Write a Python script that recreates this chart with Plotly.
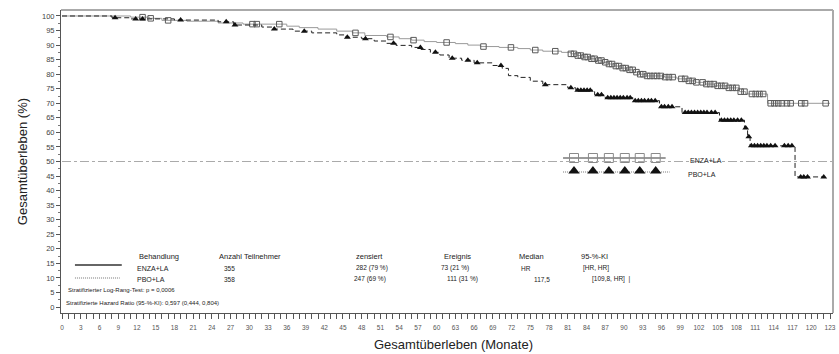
import plotly.graph_objects as go
import numpy as np

# ---------------- DATA ----------------
# Kaplan-Meier step points (month, survival %)
enza_t = [0, 11, 14, 16, 20, 25, 29, 36, 38, 41, 44, 46.5, 48.5, 52, 54, 56, 58, 60, 63, 65, 67, 70, 73,
          75, 77, 80, 81.5, 82.5, 83.5, 84.5, 85.5, 86.5, 87.5, 88.5, 89.5, 90.5, 91.5, 92.5, 93.5, 96.5,
          98.5, 100, 101.5, 103, 104.5, 106.5, 108.5, 109.5, 113, 123]
enza_s = [100, 99.6, 99.2, 98.5, 98.2, 97.6, 97.2, 96.5, 96.0, 95.5, 94.8, 94.2, 93.3, 92.8, 92.2, 91.7,
          91.2, 90.9, 90.5, 90.0, 89.5, 89.2, 88.8, 88.3, 87.9, 87.5, 87.0, 86.4, 85.9, 85.3, 84.7, 84.1,
          83.5, 82.8, 82.1, 81.5, 80.7, 80.0, 79.4, 79.0, 78.4, 77.7, 77.2, 76.6, 76.0, 75.3, 74.0, 73.2,
          70.0, 70.0]
enza_cens = [12.9, 14.2, 17, 30.5, 31.2, 34.8, 47, 52.6, 56.3, 61.6, 67.5, 71.9, 75.8, 79, 81.5, 82.0,
             82.6, 83.1, 83.7, 84.2, 84.8, 85.3, 85.9, 86.4, 87.0, 87.6, 88.1, 88.7, 89.2, 89.8, 90.3, 90.9,
             91.4, 92.0, 92.6, 93.1, 93.7, 94.2, 94.8, 95.3, 95.9, 96.6, 97.2, 97.8, 99.2, 99.8, 100.4,
             101.0, 101.6, 102.6, 103.2, 103.8, 104.4, 105.0, 105.6, 106.2, 106.8, 107.4, 108.0, 108.7,
             109.3, 110.5, 111.1, 111.7, 112.3, 113.5, 114.1, 114.7, 115.3, 116.1, 116.7, 118.4, 119.0,
             122.3]

pbo_t = [0, 8, 11, 18, 25, 27.5, 32, 34, 37, 40, 44, 45.5, 48, 50, 52, 53.5, 56, 57.5, 59, 60.5, 62, 64,
         66, 69, 70.5, 71.5, 73, 75, 77, 81, 82.3, 85.3, 87, 91.5, 95.7, 99.3, 105.3, 109.3, 109.8, 110.2,
         117.4, 122]
pbo_s = [100, 99.4, 99.0, 98.6, 98.0, 96.9, 96.2, 95.5, 94.8, 94.2, 93.5, 92.7, 92.2, 91.4, 90.6, 89.9,
         89.2, 88.5, 87.5, 86.6, 85.5, 84.8, 83.9, 83.0, 82.0, 79.5, 78.9, 77.6, 76.4, 75.3, 74.5, 72.9,
         71.9, 70.9, 68.8, 66.8, 64.2, 61.5, 58.5, 55.4, 44.7, 44.7]
pbo_cens = [8.5, 11.8, 12.9, 19, 26.3, 27.7, 34, 38.8, 45.7, 48.6, 53.1, 57.4, 59.8, 62.5, 65, 66.5, 70.3,
            77.4, 81.5, 82.6, 83.1, 83.6, 84.1, 84.6, 85.8, 86.4, 87.4, 87.9, 88.4, 88.9, 89.4, 89.9, 90.5,
            91.0, 91.8, 92.3, 92.8, 93.3, 93.9, 94.4, 95.0, 96.0, 96.5, 97.1, 97.7, 99.8, 100.3, 100.8,
            101.3, 101.8, 102.3, 102.8, 103.3, 104.0, 104.6, 105.6, 106.1, 106.6, 107.1, 107.6, 108.2,
            108.8, 109.5, 110.0, 110.4, 110.9, 111.4, 111.9, 112.4, 112.9, 113.5, 114.2, 115.7, 116.3,
            116.9, 118.3, 118.8, 119.4, 122.0]

x_tick_vals = list(range(0, 124, 3))
y_tick_vals = list(range(0, 101, 5))

table_header = ["Behandlung", "Anzahl Teilnehmer", "zensiert", "Ereignis", "Median", "95-%-KI"]
table_row_enza = ["ENZA+LA", "355", "282 (79 %)", "73 (21 %)", "HR", "[HR, HR]"]
table_row_pbo = ["PBO+LA", "358", "247 (69 %)", "111 (31 %)", "117,5", "[109,8, HR]  |"]
logrank_text = "Stratifizierter Log-Rang-Test: p = 0,0006"
hr_text = "Stratifizierte Hazard Ratio (95-%-KI): 0,597 (0,444, 0,804)"
legend_names = ["ENZA+LA", "PBO+LA"]

# ---------------- STYLE / LAYOUT ----------------
W, H = 839, 354
L, R, T, B = 61, 836, 10, 313
FONT = "Liberation Sans, Arial, sans-serif"
ENZA_COL = "#9a9a9a"
PBO_COL = "#222222"


def px(x):
    return (x - L) / (R - L)


def py(y):
    return (B - y) / (B - T)


def surv_at(times, surv, t):
    idx = np.searchsorted(np.array(times), t, side="right") - 1
    return surv[max(idx, 0)]


fig = go.Figure()

fig.add_trace(go.Scatter(x=enza_t, y=enza_s, mode="lines", line=dict(color=ENZA_COL, width=1, shape="hv"),
                         showlegend=False, hoverinfo="skip"))
fig.add_trace(go.Scatter(x=enza_cens, y=[surv_at(enza_t, enza_s, t) for t in enza_cens], mode="markers",
                         marker=dict(symbol="square-open", size=5.5, color="#5a5a5a", line=dict(width=1)),
                         showlegend=False))
fig.add_trace(go.Scatter(x=pbo_t, y=pbo_s, mode="lines", line=dict(color=PBO_COL, width=1, shape="hv", dash="5px,3px"),
                         showlegend=False, hoverinfo="skip"))
fig.add_trace(go.Scatter(x=pbo_cens, y=[surv_at(pbo_t, pbo_s, t) for t in pbo_cens], mode="markers",
                         marker=dict(symbol="triangle-up", size=6, color="#111111"),
                         showlegend=False))

# in-plot legend (pixel overlay axis)
leg_x = [576, 595, 611, 627, 642, 658]
fig.add_trace(go.Scatter(x=[565, 668], y=[158, 158], xaxis="x2", yaxis="y2", mode="lines",
                         line=dict(color=ENZA_COL, width=2), showlegend=False, hoverinfo="skip"))
fig.add_trace(go.Scatter(x=leg_x, y=[158] * 6, xaxis="x2", yaxis="y2", mode="markers",
                         marker=dict(symbol="square-open", size=9, color="#8a8a8a", line=dict(width=1)),
                         showlegend=False, hoverinfo="skip"))
fig.add_trace(go.Scatter(x=[565, 672], y=[172, 172], xaxis="x2", yaxis="y2", mode="lines",
                         line=dict(color="#777777", width=1, dash="1px,1px"), showlegend=False, hoverinfo="skip"))
fig.add_trace(go.Scatter(x=leg_x, y=[171] * 6, xaxis="x2", yaxis="y2", mode="markers",
                         marker=dict(symbol="triangle-up", size=10, color="#111111"),
                         showlegend=False, hoverinfo="skip"))

shapes = [
    # 50% reference line
    dict(type="line", xref="paper", yref="y", x0=px(62), x1=1, y0=50, y1=50,
         line=dict(color="#aaaaaa", width=1, dash="dashdot")),
    # frame top/right
    dict(type="line", xref="paper", yref="paper", x0=0, x1=1, y0=1, y1=1, line=dict(color="#aaaaaa", width=2)),
    dict(type="line", xref="paper", yref="paper", x0=1, x1=1, y0=0, y1=1, line=dict(color="#aaaaaa", width=2)),
    # table line samples
    dict(type="line", xref="paper", yref="paper", x0=px(75), x1=px(122), y0=py(265), y1=py(265),
         line=dict(color="#666666", width=2)),
    dict(type="line", xref="paper", yref="paper", x0=px(75), x1=px(120), y0=py(278), y1=py(278),
         line=dict(color="#777777", width=1, dash="1px,1px")),
]

ann = []


def txt(s, x, y, size=7, anchor="left", color="#222222", angle=0):
    ann.append(dict(text=s, x=px(x), y=py(y), xref="paper", yref="paper", showarrow=False,
                    xanchor=anchor, yanchor="middle", textangle=angle,
                    font=dict(family=FONT, size=size, color=color)))


hdr_x = [137, 218, 355, 443, 519, 581]
enza_x = [135, 223, 355, 440, 521, 583]
pbo_x = [135, 223, 353, 446, 534, 592]
for s, x in zip(table_header, hdr_x):
    txt(s, x, 256, size=7.5)
for s, x in zip(table_row_enza, enza_x):
    txt(s, x, 268, size=7 if x < 200 else 6.5)
for s, x in zip(table_row_pbo, pbo_x):
    txt(s, x, 279, size=7 if x < 200 else 6.5)
txt(logrank_text, 66, 290, size=6)
txt(hr_text, 64, 303, size=6)
txt(legend_names[0], 690, 160, size=7)
txt(legend_names[1], 688, 174, size=7)
txt("Gesamtüberleben (Monate)", 455, 344, size=13, anchor="center")
txt("Gesamtüberleben (%)", 22, 162, size=13, anchor="center", angle=-90)

fig.update_layout(
    width=W, height=H,
    margin=dict(l=L, r=W - R, t=T, b=H - B, pad=0),
    paper_bgcolor="white", plot_bgcolor="white",
    font=dict(family=FONT, color="#333333"),
    shapes=shapes, annotations=ann,
    xaxis=dict(range=[-0.16, 123.48], tickvals=x_tick_vals, ticks="outside", ticklen=5, tickwidth=1,
               tickcolor="#555555", showline=True, linecolor="#555555", linewidth=1, showgrid=False,
               zeroline=False, tickfont=dict(size=6.5, color="#555555"), ticklabelstandoff=3,
               minor=dict(dtick=1, ticks="outside", ticklen=5, tickcolor="#555555", showgrid=False)),
    yaxis=dict(range=[-2.06, 102.06], tickvals=y_tick_vals, ticks="outside", ticklen=4, tickwidth=1,
               tickcolor="#555555", showline=True, linecolor="#555555", linewidth=1, showgrid=False,
               zeroline=False, tickfont=dict(size=7.5, color="#444444"),
               minor=dict(dtick=2.5, ticks="outside", ticklen=2, tickcolor="#777777", showgrid=False)),
    xaxis2=dict(range=[L, R], overlaying="x", visible=False),
    yaxis2=dict(range=[B, T], overlaying="y", visible=False),
)

fig.write_html("out.html")
